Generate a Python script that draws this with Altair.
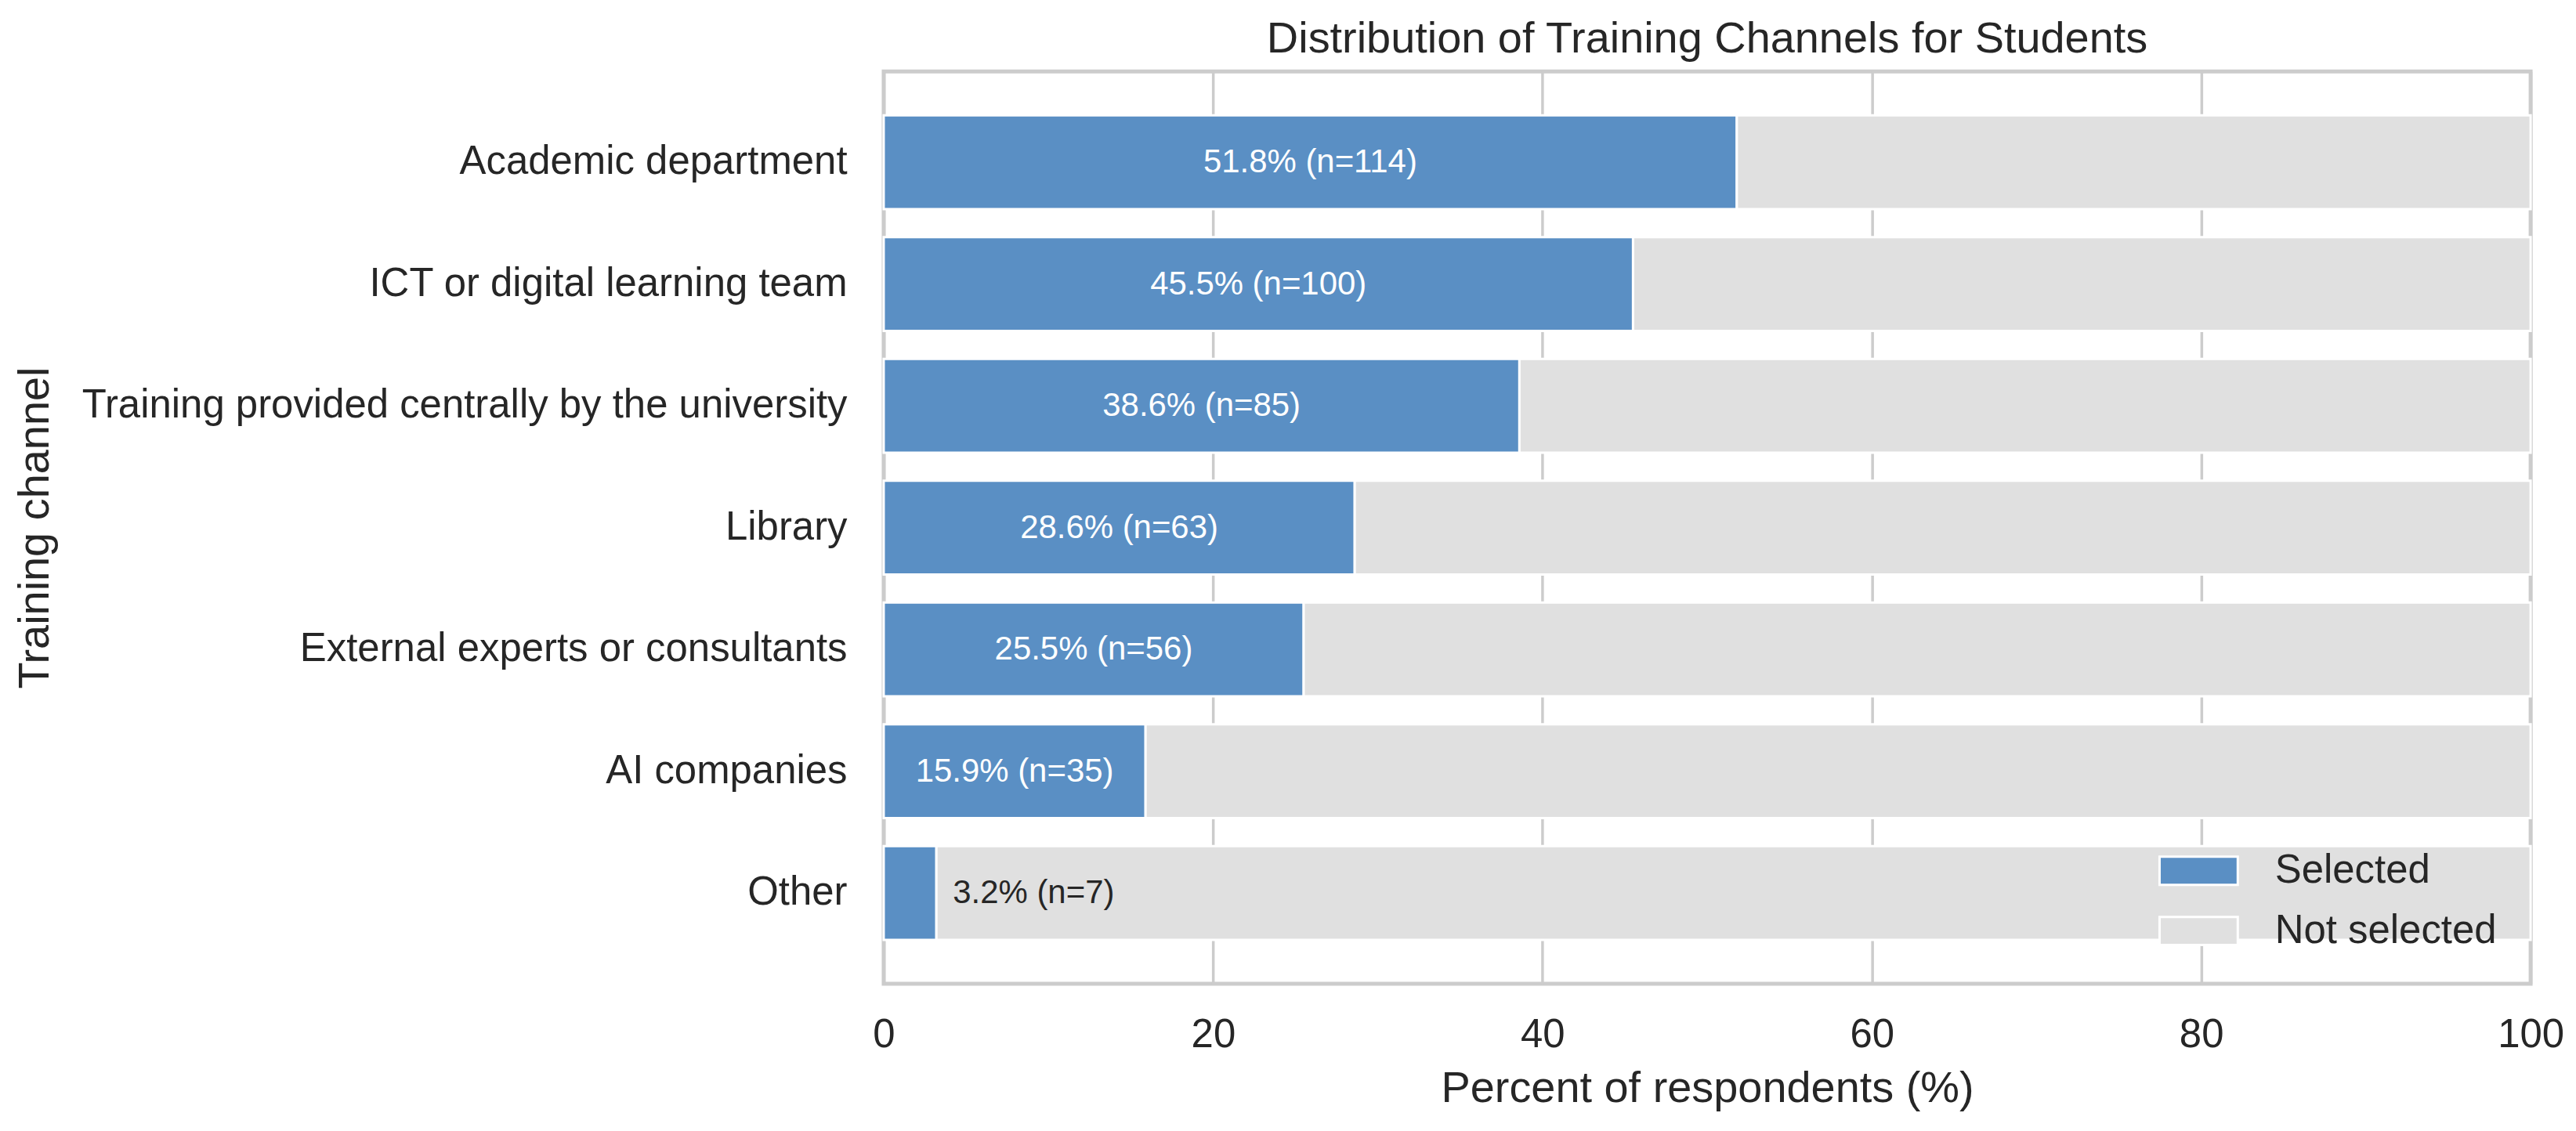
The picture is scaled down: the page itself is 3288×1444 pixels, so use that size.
import altair as alt
import pandas as pd

channels = [
    "Academic department",
    "ICT or digital learning team",
    "Training provided centrally by the university",
    "Library",
    "External experts or consultants",
    "AI companies",
    "Other",
]
percents = [51.8, 45.5, 38.6, 28.6, 25.5, 15.9, 3.2]
counts = [114, 100, 85, 63, 56, 35, 7]
statuses = ["Selected", "Not selected"]
status_colors = ["#5a8fc4", "#e0e0e0"]
x_ticks = [0, 20, 40, 60, 80, 100]

df = pd.DataFrame({"channel": channels, "pct": percents, "n": counts})

FONT = "Liberation Sans, Arial, Helvetica, sans-serif"
TEXT = "#262626"
X_TITLE = "Percent of respondents (%)"
Y_TITLE = "Training channel"

y_main = alt.Y(
    "channel:N",
    sort=channels,
    scale=alt.Scale(paddingInner=0.23, paddingOuter=0.36),
    axis=alt.Axis(
        title=Y_TITLE,
        labelFontSize=51,
        labelPadding=47,
        labelFont=FONT,
        labelColor=TEXT,
        labelLimit=0,
        titleFontSize=56,
        titleFont=FONT,
        titleColor=TEXT,
        titleFontWeight="normal",
        titleX=-1068,
        titleBaseline="alphabetic",
        ticks=False,
        domain=False,
        grid=False,
    ),
)

x_main = alt.X(
    "share:Q",
    stack="zero",
    scale=alt.Scale(domain=[0, 100], nice=False),
    axis=alt.Axis(
        title=X_TITLE,
        values=x_ticks,
        format="d",
        labelFontSize=51,
        labelPadding=41,
        labelFont=FONT,
        labelColor=TEXT,
        labelFlush=False,
        titleFontSize=56,
        titleFont=FONT,
        titleColor=TEXT,
        titleFontWeight="normal",
        titleY=151,
        titleBaseline="alphabetic",
        ticks=False,
        domain=False,
        grid=True,
        gridColor="#cccccc",
        gridWidth=3.5,
    ),
)

base = alt.Chart(df)

bars = (
    base.transform_calculate(rest="100 - datum.pct")
    .transform_fold(["pct", "rest"], as_=["key", "share"])
    .transform_calculate(
        status="datum.key == 'pct' ? 'Selected' : 'Not selected'",
        seq="datum.key == 'pct' ? 0 : 1",
    )
    .mark_bar(stroke="white", strokeWidth=3)
    .encode(
        y=y_main,
        x=x_main,
        color=alt.Color(
            "status:N",
            scale=alt.Scale(domain=statuses, range=status_colors),
            legend=alt.Legend(
                title=None,
                orient="none",
                legendX=1630,
                legendY=971,
                symbolType="M-1,-0.36H1V0.36H-1Z",
                symbolSize=10000,
                symbolStrokeColor="white",
                symbolStrokeWidth=3,
                labelFontSize=51,
                labelFont=FONT,
                labelColor=TEXT,
                labelLimit=0,
                labelOffset=46,
                rowPadding=0,
                padding=0,
            ),
        ),
        order=alt.Order("seq:Q"),
    )
)

label_expr = "format(datum.pct, '.1f') + '% (n=' + datum.n + ')'"

inside = (
    base.transform_filter("datum.pct >= 10")
    .transform_calculate(xpos="datum.pct / 2", label=label_expr)
    .mark_text(color="white", fontSize=42, font=FONT, align="center", baseline="middle")
    .encode(
        y=alt.Y("channel:N", sort=channels, title=Y_TITLE),
        x=alt.X("xpos:Q", title=X_TITLE),
        text="label:N",
    )
)

outside = (
    base.transform_filter("datum.pct < 10")
    .transform_calculate(xpos="datum.pct + 1", label=label_expr)
    .mark_text(color=TEXT, fontSize=42, font=FONT, align="left", baseline="middle")
    .encode(
        y=alt.Y("channel:N", sort=channels, title=Y_TITLE),
        x=alt.X("xpos:Q", title=X_TITLE),
        text="label:N",
    )
)

chart = (
    alt.layer(bars, inside, outside)
    .properties(
        width=2106,
        height=1167,
        autosize=alt.AutoSizeParams(type="none"),
        padding={"left": 1122, "top": 82, "right": 50, "bottom": 170},
        title=alt.Title(
            "Distribution of Training Channels for Students",
            fontSize=56,
            font=FONT,
            color=TEXT,
            fontWeight="normal",
            anchor="middle",
            frame="group",
            baseline="bottom",
            offset=18,
            dy=62,
        ),
    )
    .configure_view(stroke="#cccccc", strokeWidth=5)
)

chart.save("out.html", embed_options={"renderer": "svg", "actions": False})
